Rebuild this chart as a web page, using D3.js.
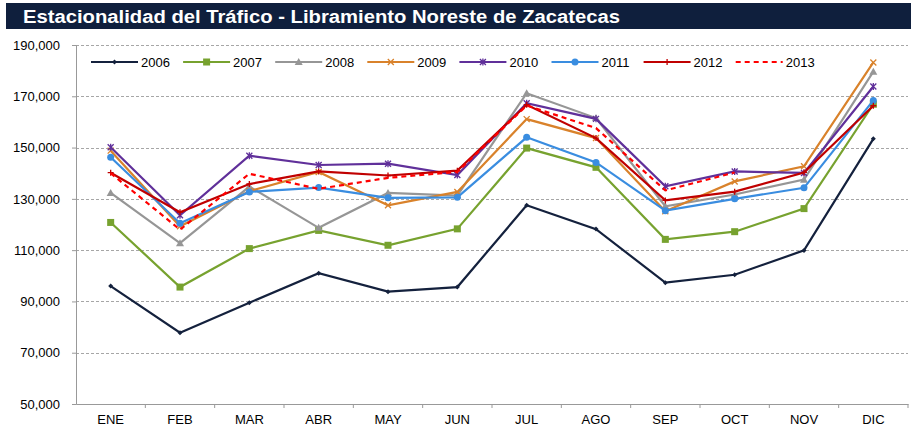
<!DOCTYPE html>
<html>
<head>
  <script src="https://d3js.org/d3.v7.min.js"></script>
  <style>
    body { margin: 0; background: #fff; }
    text { font-family: "Liberation Sans", Arial, sans-serif; }
    .axis text { font-size: 13px; fill: #000; }
    .grid line { stroke: #a6a6a6; stroke-dasharray: 3,2; }
  </style>
</head>
<body>
  <svg id="chart" width="916" height="433"></svg>
  <script>
    var months = ['ENE', 'FEB', 'MAR', 'ABR', 'MAY', 'JUN', 'JUL', 'AGO', 'SEP', 'OCT', 'NOV', 'DIC'];
    var yTicks = [50000, 70000, 90000, 110000, 130000, 150000, 170000, 190000];

    var y2006 = [96000, 77800, 89500, 101000, 93800, 95600, 127500, 118200, 97300, 100400, 109900, 153400];
    var y2007 = [120800, 95600, 110600, 117700, 111900, 118300, 149800, 142300, 114200, 117200, 126200, 166900];
    var y2008 = [132300, 112700, 134800, 118700, 132300, 131300, 171200, 161500, 127100, 131700, 137500, 179600];
    var y2009 = [148800, 119300, 133000, 140500, 127500, 132700, 161100, 153700, 125200, 136800, 142700, 183200];
    var y2010 = [150100, 123600, 146800, 143200, 143700, 139300, 167300, 161200, 134900, 140700, 140100, 173800];
    var y2011 = [146200, 120500, 132700, 134400, 130400, 130600, 154000, 144200, 125400, 130000, 134300, 168400];
    var y2012 = [140200, 124800, 135800, 140700, 139100, 141000, 166700, 153700, 129400, 132800, 140300, 166300];
    var y2013 = [140000, 118000, 139800, 133900, 138200, 140500, 166400, 157600, 133300, 140300];

    var series = [
      { name: '2006', values: y2006, color: '#14213d', marker: 'diamond' },
      { name: '2007', values: y2007, color: '#77a22f', marker: 'square' },
      { name: '2008', values: y2008, color: '#969696', marker: 'triangle' },
      { name: '2009', values: y2009, color: '#d9822b', marker: 'x' },
      { name: '2010', values: y2010, color: '#60309a', marker: 'star' },
      { name: '2011', values: y2011, color: '#3a8de0', marker: 'circle' },
      { name: '2012', values: y2012, color: '#c00000', marker: 'plus' },
      { name: '2013', values: y2013, color: '#ff0000', marker: 'none', dash: '5,4' }
    ];

    var svg = d3.select('#chart');
    var mLeft = 76, mRight = 908, mTop = 45, mBottom = 404;

    // title bar
    svg.append('rect')
      .attr('x', 6).attr('y', 3)
      .attr('width', 905).attr('height', 26)
      .attr('fill', '#0f1f3d');
    svg.append('text')
      .attr('x', 23).attr('y', 22.5)
      .attr('fill', '#fff')
      .attr('textLength', 597)
      .attr('lengthAdjust', 'spacingAndGlyphs')
      .style('font-size', '18px')
      .style('font-weight', 'bold')
      .text('Estacionalidad del Tráfico - Libramiento Noreste de Zacatecas');

    var x = d3.scaleBand().domain(months).range([mLeft, mRight]);
    var y = d3.scaleLinear().domain([50000, 190000]).range([mBottom, mTop]);

    // gridlines
    svg.append('g').attr('class', 'grid')
      .selectAll('line')
      .data(yTicks.slice(1))
      .enter().append('line')
      .attr('x1', mLeft).attr('x2', mRight)
      .attr('y1', function (d) { return Math.round(y(d)) + 0.5; })
      .attr('y2', function (d) { return Math.round(y(d)) + 0.5; });

    svg.append('g').attr('class', 'axis')
      .attr('transform', 'translate(' + mLeft + ',0)')
      .call(d3.axisLeft(y).tickValues(yTicks).tickSize(4).tickPadding(12)
        .tickFormat(d3.format(',')));
    svg.append('g').attr('class', 'axis')
      .attr('transform', 'translate(0,' + mBottom + ')')
      .call(d3.axisBottom(x).tickSize(0).tickPadding(11));
    svg.selectAll('.axis path, .axis line').attr('stroke', '#999');

    // x boundary ticks
    svg.append('g').selectAll('line')
      .data(months)
      .enter().append('line')
      .attr('x1', function (d) { return x(d) + x.bandwidth(); })
      .attr('x2', function (d) { return x(d) + x.bandwidth(); })
      .attr('y1', mBottom).attr('y2', mBottom + 4)
      .attr('stroke', '#999');

    function drawMarker(g, type, color) {
      if (type === 'diamond') {
        g.append('path').attr('d', 'M0,-2.5L2.5,0L0,2.5L-2.5,0Z').attr('fill', color);
      } else if (type === 'square') {
        g.append('rect').attr('x', -3.5).attr('y', -3.5).attr('width', 7).attr('height', 7).attr('fill', color);
      } else if (type === 'triangle') {
        g.append('path').attr('d', 'M0,-4L4,3L-4,3Z').attr('fill', color);
      } else if (type === 'circle') {
        g.append('circle').attr('r', 3.5).attr('fill', color);
      } else if (type === 'x') {
        g.append('path').attr('d', 'M-3,-3L3,3M-3,3L3,-3').attr('stroke', color).attr('stroke-width', 1.3);
      } else if (type === 'star') {
        g.append('path').attr('d', 'M-3,-3L3,3M-3,3L3,-3M0,-3.5L0,3.5').attr('stroke', color).attr('stroke-width', 1.3);
      } else if (type === 'plus') {
        g.append('path').attr('d', 'M-3,0L3,0M0,-3L0,3').attr('stroke', color).attr('stroke-width', 1.3);
      }
    }

    var line = d3.line()
      .x(function (d, i) { return x(months[i]) + x.bandwidth() / 2; })
      .y(function (d) { return y(d); });

    series.forEach(function (s) {
      svg.append('path')
        .datum(s.values)
        .attr('fill', 'none')
        .attr('stroke', s.color)
        .attr('stroke-width', 2.2)
        .attr('stroke-dasharray', s.dash || null)
        .attr('d', line);
      s.values.forEach(function (v, i) {
        var g = svg.append('g')
          .attr('transform', 'translate(' + (x(months[i]) + x.bandwidth() / 2) + ',' + y(v) + ')');
        drawMarker(g, s.marker, s.color);
      });
    });

    // legend
    var legend = svg.append('g').attr('transform', 'translate(91,62)');
    series.forEach(function (s, i) {
      var g = legend.append('g').attr('transform', 'translate(' + (i * 92.1) + ',0)');
      g.append('line')
        .attr('x1', 0).attr('x2', 47)
        .attr('stroke', s.color)
        .attr('stroke-width', 2.2)
        .attr('stroke-dasharray', s.dash || null);
      var m = g.append('g').attr('transform', 'translate(23.5,0)');
      drawMarker(m, s.marker, s.color);
      g.append('text')
        .attr('x', 50).attr('y', 4.5)
        .style('font-size', '13px')
        .text(s.name);
    });
  </script>
</body>
</html>
